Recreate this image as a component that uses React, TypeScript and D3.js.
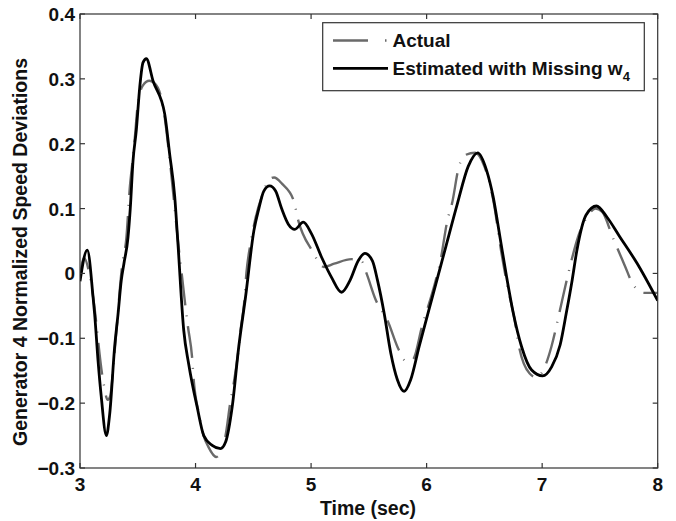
import React from "react";
import * as d3 from "d3";

const xTicks = [3, 4, 5, 6, 7, 8];
const yTicks = [-0.3, -0.2, -0.1, 0, 0.1, 0.2, 0.3, 0.4];

const actualT = [3.0, 3.035, 3.08, 3.113, 3.2, 3.24, 3.26, 3.3, 3.37, 3.4, 3.43, 3.459, 3.475, 3.5, 3.545, 3.6, 3.64, 3.705, 3.78, 3.83, 3.86, 3.88, 3.91, 3.935, 3.97, 3.985, 4.03, 4.07, 4.11, 4.18, 4.22, 4.26, 4.3, 4.33, 4.37, 4.39, 4.42, 4.44, 4.48, 4.515, 4.58, 4.64, 4.68, 4.75, 4.85, 4.89, 5.01, 5.11, 5.2, 5.35, 5.44, 5.48, 5.56, 5.66, 5.76, 5.82, 5.88, 5.96, 6.08, 6.12, 6.18, 6.22, 6.28, 6.34, 6.42, 6.5, 6.58, 6.64, 6.7, 6.76, 6.8, 6.89, 6.95, 7.01, 7.08, 7.15, 7.2, 7.24, 7.31, 7.4, 7.46, 7.52, 7.61, 7.72, 7.78, 7.88, 8.0];
const actualV = [-0.005, 0.024, 0.0, -0.036, -0.165, -0.195, -0.19, -0.12, 0.02, 0.052, 0.13, 0.18, 0.21, 0.26, 0.29, 0.297, 0.294, 0.27, 0.17, 0.082, 0.03, 0.0, -0.047, -0.083, -0.129, -0.166, -0.217, -0.25, -0.267, -0.283, -0.275, -0.25, -0.2, -0.17, -0.12, -0.087, -0.047, 0.0, 0.05, 0.082, 0.122, 0.145, 0.148, 0.138, 0.112, 0.081, 0.035, 0.01, 0.015, 0.022, 0.018, 0.0, -0.041, -0.072, -0.118, -0.135, -0.133, -0.082, -0.01, 0.02, 0.082, 0.108, 0.165, 0.183, 0.186, 0.165, 0.11, 0.04, -0.02, -0.07, -0.113, -0.154, -0.16, -0.149, -0.113, -0.06, -0.02, 0.01, 0.056, 0.09, 0.1, 0.095, 0.056, 0.01, -0.015, -0.03, -0.03];

const estT = [3.0, 3.063, 3.113, 3.127, 3.156, 3.184, 3.228, 3.257, 3.3, 3.329, 3.357, 3.38, 3.415, 3.435, 3.459, 3.487, 3.517, 3.545, 3.574, 3.632, 3.733, 3.776, 3.82, 3.848, 3.898, 3.941, 4.014, 4.071, 4.144, 4.216, 4.26, 4.317, 4.374, 4.433, 4.505, 4.548, 4.591, 4.641, 4.693, 4.745, 4.803, 4.86, 4.932, 5.004, 5.091, 5.177, 5.264, 5.336, 5.409, 5.466, 5.532, 5.574, 5.632, 5.69, 5.747, 5.805, 5.862, 5.935, 6.05, 6.166, 6.267, 6.36, 6.442, 6.519, 6.576, 6.634, 6.692, 6.75, 6.822, 6.909, 7.004, 7.082, 7.156, 7.21, 7.26, 7.3, 7.38, 7.47, 7.56, 7.67, 7.82, 8.0];
const estV = [-0.012, 0.036, -0.036, -0.063, -0.134, -0.19, -0.25, -0.217, -0.113, -0.063, -0.011, 0.015, 0.055, 0.1, 0.174, 0.22, 0.287, 0.325, 0.331, 0.297, 0.246, 0.184, 0.118, 0.045, -0.088, -0.14, -0.206, -0.25, -0.265, -0.27, -0.26, -0.206, -0.113, -0.036, 0.066, 0.1, 0.127, 0.135, 0.127, 0.1, 0.076, 0.068, 0.079, 0.061, 0.025, -0.006, -0.029, -0.011, 0.02, 0.031, 0.019, -0.01, -0.061, -0.123, -0.164, -0.182, -0.164, -0.113, -0.036, 0.041, 0.108, 0.165, 0.186, 0.159, 0.118, 0.057, -0.005, -0.061, -0.113, -0.149, -0.158, -0.144, -0.11, -0.06, -0.01, 0.035, 0.09, 0.104, 0.087, 0.057, 0.016, -0.042];

const W = 676;
const H = 521;
const L = 80, R = 657.7, T = 14, B = 468;
const FONT = "'Liberation Sans', Arial, Helvetica, sans-serif";

export default function App() {
  const x = d3.scaleLinear().domain([3, 8]).range([L, R]);
  const y = d3.scaleLinear().domain([-0.3, 0.4]).range([B, T]);
  const line = d3
    .line<[number, number]>()
    .x((d) => x(d[0]))
    .y((d) => y(d[1]))
    .curve(d3.curveMonotoneX);
  const actual = actualT.map((t, i) => [t, actualV[i]] as [number, number]);
  const est = estT.map((t, i) => [t, estV[i]] as [number, number]);
  const tickLen = 5;
  const fmt = (v: number) => (Math.abs(v) < 1e-9 ? "0" : d3.format(".1f")(v));

  return (
    <svg
      width={W}
      height={H}
      style={{ position: "absolute", left: 0, top: 0, background: "#fff" }}
      fontFamily={FONT}
    >
      <rect x={0} y={0} width={W} height={H} fill="#fff" />
      <defs>
        <clipPath id="plot">
          <rect x={L} y={T} width={R - L} height={B - T} />
        </clipPath>
      </defs>
      <g clipPath="url(#plot)">
        <path
          d={line(actual) || ""}
          fill="none"
          stroke="#6a6a6a"
          strokeWidth={2.4}
          strokeDasharray="32,10,1,10"
        />
        <path d={line(est) || ""} fill="none" stroke="#000" strokeWidth={2.8} strokeLinejoin="round" />
      </g>
      <rect x={L} y={T} width={R - L} height={B - T} fill="none" stroke="#333" strokeWidth={1.2} />
      {xTicks.map((t) => (
        <g key={"x" + t}>
          <line x1={x(t)} x2={x(t)} y1={B} y2={B - tickLen} stroke="#333" strokeWidth={1.2} />
          <line x1={x(t)} x2={x(t)} y1={T} y2={T + tickLen} stroke="#333" strokeWidth={1.2} />
          <text x={x(t)} y={491} textAnchor="middle" fontSize={19} fontWeight="bold" fill="#111">
            {t}
          </text>
        </g>
      ))}
      {yTicks.map((v) => (
        <g key={"y" + v}>
          <line x1={L} x2={L + tickLen} y1={y(v)} y2={y(v)} stroke="#333" strokeWidth={1.2} />
          <line x1={R} x2={R - tickLen} y1={y(v)} y2={y(v)} stroke="#333" strokeWidth={1.2} />
          <text x={75} y={y(v) + 7} textAnchor="end" fontSize={19} fontWeight="bold" fill="#111">
            {fmt(v)}
          </text>
        </g>
      ))}
      <text x={368} y={515} textAnchor="middle" fontSize={19.5} fontWeight="bold" fill="#111">
        Time (sec)
      </text>
      <text
        transform="translate(27,252) rotate(-90)"
        textAnchor="middle"
        fontSize={19.5}
        fontWeight="bold"
        fill="#111"
      >
        Generator 4 Normalized Speed Deviations
      </text>
      <g>
        <rect x={322.7} y={22.7} width={321.6} height={68} fill="#fff" stroke="#333" strokeWidth={1.2} />
        <line x1={333} x2={388} y1={40.5} y2={40.5} stroke="#6a6a6a" strokeWidth={2.4} strokeDasharray="35,17,1.5,9" />
        <line x1={333} x2={388} y1={68.3} y2={68.3} stroke="#000" strokeWidth={2.8} />
        <text x={392.5} y={47} fontSize={19} fontWeight="bold" fill="#111">
          Actual
        </text>
        <text x={392.5} y={75} fontSize={19} fontWeight="bold" fill="#111">
          Estimated with Missing w
          <tspan fontSize={13} dy={6}>4</tspan>
        </text>
      </g>
    </svg>
  );
}
